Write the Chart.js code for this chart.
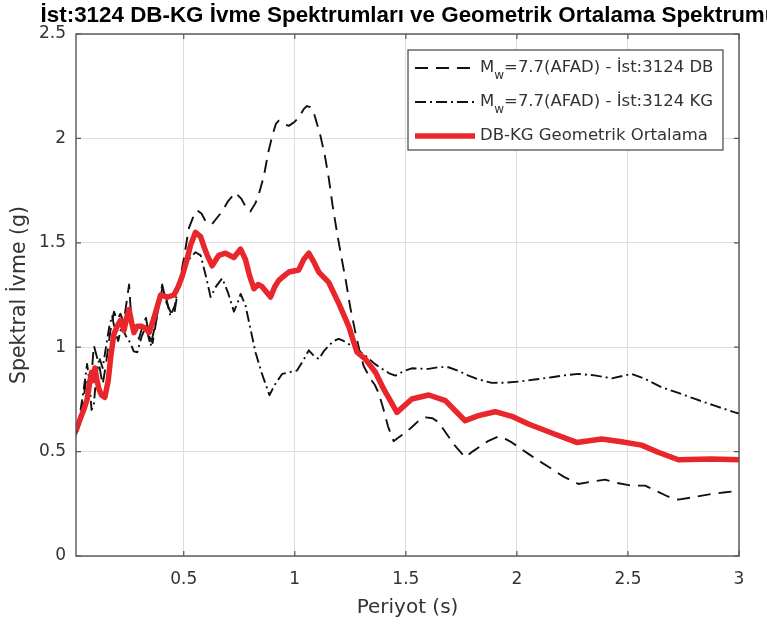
<!DOCTYPE html>
<html>
<head>
<meta charset="utf-8">
<script src="https://cdn.jsdelivr.net/npm/chart.js@4.4.1/dist/chart.umd.min.js"></script>
<style>
  html, body { margin: 0; padding: 0; background: #ffffff; }
  #wrap { width: 767px; height: 628px; position: relative; }
</style>
</head>
<body>
<div id="wrap"><canvas id="spectra"></canvas></div>
<script>
// Spectral acceleration (g) against period (s) for station 3124
const dbPeriods = [0.015, 0.03, 0.045, 0.06, 0.068, 0.08, 0.095, 0.11, 0.12, 0.135, 0.15, 0.17, 0.186, 0.2, 0.215, 0.23, 0.254, 0.265, 0.28, 0.298, 0.315, 0.33, 0.345, 0.36, 0.38, 0.403, 0.42, 0.44, 0.456, 0.478, 0.5, 0.523, 0.545, 0.561, 0.58, 0.6, 0.628, 0.65, 0.673, 0.7, 0.733, 0.76, 0.785, 0.8, 0.823, 0.84, 0.861, 0.88, 0.898, 0.915, 0.928, 0.95, 0.973, 1.0, 1.018, 1.04, 1.055, 1.07, 1.085, 1.1, 1.116, 1.135, 1.153, 1.17, 1.19, 1.21, 1.228, 1.25, 1.273, 1.29, 1.31, 1.34, 1.36, 1.378, 1.4, 1.42, 1.445, 1.47, 1.498, 1.53, 1.56, 1.588, 1.62, 1.648, 1.68, 1.72, 1.767, 1.8, 1.827, 1.87, 1.917, 1.95, 1.977, 2.01, 2.052, 2.1, 2.157, 2.21, 2.277, 2.33, 2.397, 2.45, 2.517, 2.577, 2.63, 2.68, 2.727, 2.8, 2.876, 2.94, 3.0];
const dbAccel = [0.58, 0.64, 0.72, 0.84, 0.86, 0.78, 1.01, 0.95, 0.91, 0.82, 0.92, 1.08, 1.17, 1.13, 1.16, 1.12, 1.30, 1.12, 1.09, 1.04, 1.10, 1.14, 1.05, 1.02, 1.15, 1.30, 1.22, 1.17, 1.15, 1.30, 1.42, 1.57, 1.63, 1.655, 1.64, 1.60, 1.59, 1.62, 1.65, 1.70, 1.74, 1.71, 1.66, 1.65, 1.69, 1.74, 1.82, 1.93, 2.01, 2.07, 2.085, 2.07, 2.06, 2.08, 2.10, 2.14, 2.155, 2.15, 2.125, 2.07, 2.01, 1.92, 1.81, 1.68, 1.55, 1.43, 1.33, 1.19, 1.07, 0.99, 0.91, 0.85, 0.82, 0.78, 0.70, 0.62, 0.55, 0.57, 0.59, 0.62, 0.65, 0.664, 0.66, 0.64, 0.59, 0.53, 0.473, 0.50, 0.52, 0.55, 0.573, 0.56, 0.544, 0.52, 0.489, 0.455, 0.417, 0.38, 0.345, 0.355, 0.366, 0.35, 0.337, 0.337, 0.31, 0.285, 0.27, 0.283, 0.297, 0.305, 0.313];

const kgPeriods = [0.015, 0.03, 0.05, 0.065, 0.075, 0.085, 0.095, 0.105, 0.12, 0.135, 0.15, 0.165, 0.178, 0.19, 0.205, 0.22, 0.239, 0.26, 0.275, 0.291, 0.31, 0.33, 0.351, 0.37, 0.385, 0.403, 0.42, 0.44, 0.46, 0.48, 0.5, 0.523, 0.553, 0.576, 0.6, 0.621, 0.645, 0.673, 0.7, 0.726, 0.745, 0.756, 0.778, 0.8, 0.823, 0.85, 0.886, 0.91, 0.943, 0.975, 1.01, 1.04, 1.063, 1.085, 1.108, 1.13, 1.153, 1.175, 1.198, 1.22, 1.243, 1.28, 1.318, 1.36, 1.393, 1.425, 1.453, 1.49, 1.527, 1.603, 1.65, 1.692, 1.74, 1.782, 1.83, 1.887, 1.95, 2.007, 2.08, 2.157, 2.22, 2.277, 2.35, 2.427, 2.517, 2.577, 2.652, 2.73, 2.802, 2.89, 2.981, 3.0];
const kgAccel = [0.60, 0.66, 0.80, 0.92, 0.84, 0.70, 0.72, 0.85, 0.95, 0.90, 1.00, 1.10, 1.15, 1.08, 1.03, 1.10, 1.055, 1.02, 0.98, 0.976, 1.05, 1.10, 1.007, 1.10, 1.18, 1.28, 1.24, 1.15, 1.20, 1.32, 1.38, 1.42, 1.455, 1.44, 1.34, 1.24, 1.29, 1.33, 1.26, 1.17, 1.22, 1.255, 1.20, 1.09, 0.976, 0.88, 0.77, 0.82, 0.872, 0.88, 0.888, 0.94, 0.985, 0.96, 0.943, 0.98, 1.007, 1.03, 1.04, 1.03, 1.015, 0.99, 0.96, 0.92, 0.896, 0.875, 0.864, 0.885, 0.899, 0.896, 0.905, 0.904, 0.885, 0.864, 0.845, 0.829, 0.83, 0.835, 0.845, 0.856, 0.866, 0.872, 0.865, 0.851, 0.872, 0.848, 0.808, 0.78, 0.752, 0.72, 0.688, 0.682];

const gmPeriods = [0.015, 0.035, 0.05, 0.065, 0.075, 0.085, 0.092, 0.1, 0.108, 0.118, 0.13, 0.145, 0.16, 0.171, 0.185, 0.2, 0.216, 0.231, 0.245, 0.254, 0.265, 0.276, 0.29, 0.31, 0.329, 0.344, 0.366, 0.396, 0.426, 0.456, 0.475, 0.493, 0.515, 0.531, 0.553, 0.576, 0.595, 0.606, 0.628, 0.658, 0.688, 0.726, 0.756, 0.778, 0.797, 0.816, 0.835, 0.853, 0.891, 0.91, 0.928, 0.95, 0.973, 1.018, 1.04, 1.063, 1.085, 1.108, 1.153, 1.198, 1.243, 1.28, 1.318, 1.363, 1.4, 1.46, 1.527, 1.603, 1.678, 1.767, 1.827, 1.902, 1.977, 2.052, 2.157, 2.269, 2.382, 2.471, 2.561, 2.636, 2.727, 2.876, 3.0];
const gmAccel = [0.60, 0.66, 0.70, 0.75, 0.82, 0.88, 0.84, 0.90, 0.85, 0.80, 0.77, 0.76, 0.84, 0.95, 1.06, 1.10, 1.13, 1.08, 1.15, 1.18, 1.12, 1.07, 1.10, 1.10, 1.09, 1.07, 1.14, 1.25, 1.24, 1.25, 1.29, 1.34, 1.42, 1.49, 1.55, 1.53, 1.47, 1.44, 1.39, 1.44, 1.45, 1.43, 1.47, 1.42, 1.34, 1.28, 1.30, 1.29, 1.24, 1.29, 1.32, 1.34, 1.36, 1.37, 1.42, 1.45, 1.41, 1.36, 1.31, 1.21, 1.10, 0.976, 0.943, 0.88, 0.80, 0.688, 0.752, 0.771, 0.744, 0.648, 0.672, 0.691, 0.669, 0.632, 0.589, 0.544, 0.56, 0.547, 0.531, 0.497, 0.461, 0.465, 0.461];

const xTickValues = [0.5, 1, 1.5, 2, 2.5, 3];
const yTickValues = [0, 0.5, 1, 1.5, 2, 2.5];

const chartTitle = 'İst:3124 DB-KG İvme Spektrumları ve Geometrik Ortalama Spektrumu';
const xAxisTitle = 'Periyot (s)';
const yAxisTitle = 'Spektral İvme (g)';
const legendLabels = [
  { main: 'M', sub: 'w', rest: '=7.7(AFAD) - İst:3124 DB' },
  { main: 'M', sub: 'w', rest: '=7.7(AFAD) - İst:3124 KG' },
  { main: 'DB-KG Geometrik Ortalama', sub: '', rest: '' }
];

const FONT = "'DejaVu Sans', 'Liberation Sans', sans-serif";
const TITLE_FONT = "'Liberation Sans', Arial, sans-serif";
const TEXT_COLOR = '#333333';
const AXIS_COLOR = '#555555';
const RED = '#e8262b';

function toPoints(xs, ys) {
  return xs.map((x, i) => ({ x: x, y: ys[i] }));
}

const styles = [
  { color: '#111111', width: 1.9, dash: [13, 8] },
  { color: '#111111', width: 1.9, dash: [11, 4, 2, 4] },
  { color: RED, width: 5.5, dash: [] }
];

// Title centred over the plotting area
const titlePlugin = {
  id: 'plotTitle',
  afterDraw(chart) {
    const { ctx, chartArea } = chart;
    ctx.save();
    ctx.font = "bold 22.4px " + TITLE_FONT;
    ctx.fillStyle = '#000000';
    ctx.textAlign = 'center';
    ctx.textBaseline = 'alphabetic';
    ctx.fillText(chartTitle, (chartArea.left + chartArea.right) / 2 + 2, 22);
    ctx.restore();
  }
};

// Axes box with inward tick marks on every side
const boxPlugin = {
  id: 'axesBox',
  afterDatasetsDraw(chart) {
    const { ctx, chartArea: a, scales } = chart;
    ctx.save();
    ctx.strokeStyle = AXIS_COLOR;
    ctx.lineWidth = 1.4;
    ctx.strokeRect(a.left, a.top, a.right - a.left, a.bottom - a.top);
    ctx.lineWidth = 1.2;
    const len = 5;
    ctx.beginPath();
    xTickValues.forEach(v => {
      const px = scales.x.getPixelForValue(v);
      ctx.moveTo(px, a.bottom); ctx.lineTo(px, a.bottom - len);
      ctx.moveTo(px, a.top); ctx.lineTo(px, a.top + len);
    });
    yTickValues.forEach(v => {
      const py = scales.y.getPixelForValue(v);
      ctx.moveTo(a.left, py); ctx.lineTo(a.left + len, py);
      ctx.moveTo(a.right, py); ctx.lineTo(a.right - len, py);
    });
    ctx.stroke();
    ctx.restore();
  }
};

// Boxed legend in the upper right corner, with subscripted magnitude label
const legendPlugin = {
  id: 'boxedLegend',
  afterDraw(chart) {
    const { ctx } = chart;
    const bx = 408, by = 50, bw = 315, bh = 100;
    ctx.save();
    ctx.fillStyle = '#ffffff';
    ctx.fillRect(bx, by, bw, bh);
    ctx.strokeStyle = '#444444';
    ctx.lineWidth = 1.2;
    ctx.strokeRect(bx, by, bw, bh);
    const rows = [68, 102, 136];
    legendLabels.forEach((lab, i) => {
      const y = rows[i];
      const st = styles[i];
      ctx.strokeStyle = st.color;
      ctx.lineWidth = st.width;
      ctx.setLineDash(st.dash);
      ctx.beginPath();
      ctx.moveTo(415, y);
      ctx.lineTo(475, y);
      ctx.stroke();
      ctx.setLineDash([]);
      ctx.fillStyle = TEXT_COLOR;
      ctx.textAlign = 'left';
      ctx.textBaseline = 'middle';
      let x = 480;
      ctx.font = "16.5px " + FONT;
      ctx.fillText(lab.main, x, y);
      x += ctx.measureText(lab.main).width;
      if (lab.sub) {
        ctx.font = "12px " + FONT;
        ctx.fillText(lab.sub, x, y + 8);
        x += ctx.measureText(lab.sub).width;
        ctx.font = "16.5px " + FONT;
        ctx.fillText(lab.rest, x, y);
      }
    });
    ctx.restore();
  }
};

new Chart(document.getElementById('spectra'), {
  type: 'line',
  data: {
    datasets: [
      { label: 'DB', data: toPoints(dbPeriods, dbAccel), order: 2 },
      { label: 'KG', data: toPoints(kgPeriods, kgAccel), order: 1 },
      { label: 'DB-KG Geometrik Ortalama', data: toPoints(gmPeriods, gmAccel), order: 0 }
    ].map((d, i) => Object.assign(d, {
      borderColor: styles[i].color,
      borderWidth: styles[i].width,
      borderDash: styles[i].dash,
      pointRadius: 0,
      tension: 0,
      fill: false,
      borderJoinStyle: 'round',
      borderCapStyle: 'butt'
    }))
  },
  options: {
    responsive: true,
    maintainAspectRatio: false,
    animation: false,
    layout: { padding: { top: 34, right: 28, left: 0, bottom: 0 } },
    plugins: { legend: { display: false }, tooltip: { enabled: false }, title: { display: false } },
    scales: {
      x: {
        type: 'linear',
        min: 0.015, max: 3,
        afterBuildTicks: s => { s.ticks = xTickValues.map(v => ({ value: v })); },
        afterFit: s => { s.height = 72; },
        grid: { color: '#dedede', lineWidth: 1, drawTicks: false },
        border: { display: false },
        ticks: { color: TEXT_COLOR, font: { family: FONT, size: 17 }, padding: 13, maxRotation: 0, callback: v => String(v) },
        title: { display: true, text: xAxisTitle, color: TEXT_COLOR, font: { family: FONT, size: 20 }, padding: { top: 0, bottom: 8 } }
      },
      y: {
        min: 0, max: 2.5,
        afterBuildTicks: s => { s.ticks = yTickValues.map(v => ({ value: v })); },
        afterFit: s => { s.width = 76; },
        grid: { color: '#dedede', lineWidth: 1, drawTicks: false },
        border: { display: false },
        ticks: { color: TEXT_COLOR, font: { family: FONT, size: 17 }, padding: 10, callback: v => String(v) },
        title: { display: true, text: yAxisTitle, color: TEXT_COLOR, font: { family: FONT, size: 20.5 }, padding: { top: 7, bottom: 0 } }
      }
    }
  },
  plugins: [boxPlugin, titlePlugin, legendPlugin]
});
</script>
</body>
</html>
